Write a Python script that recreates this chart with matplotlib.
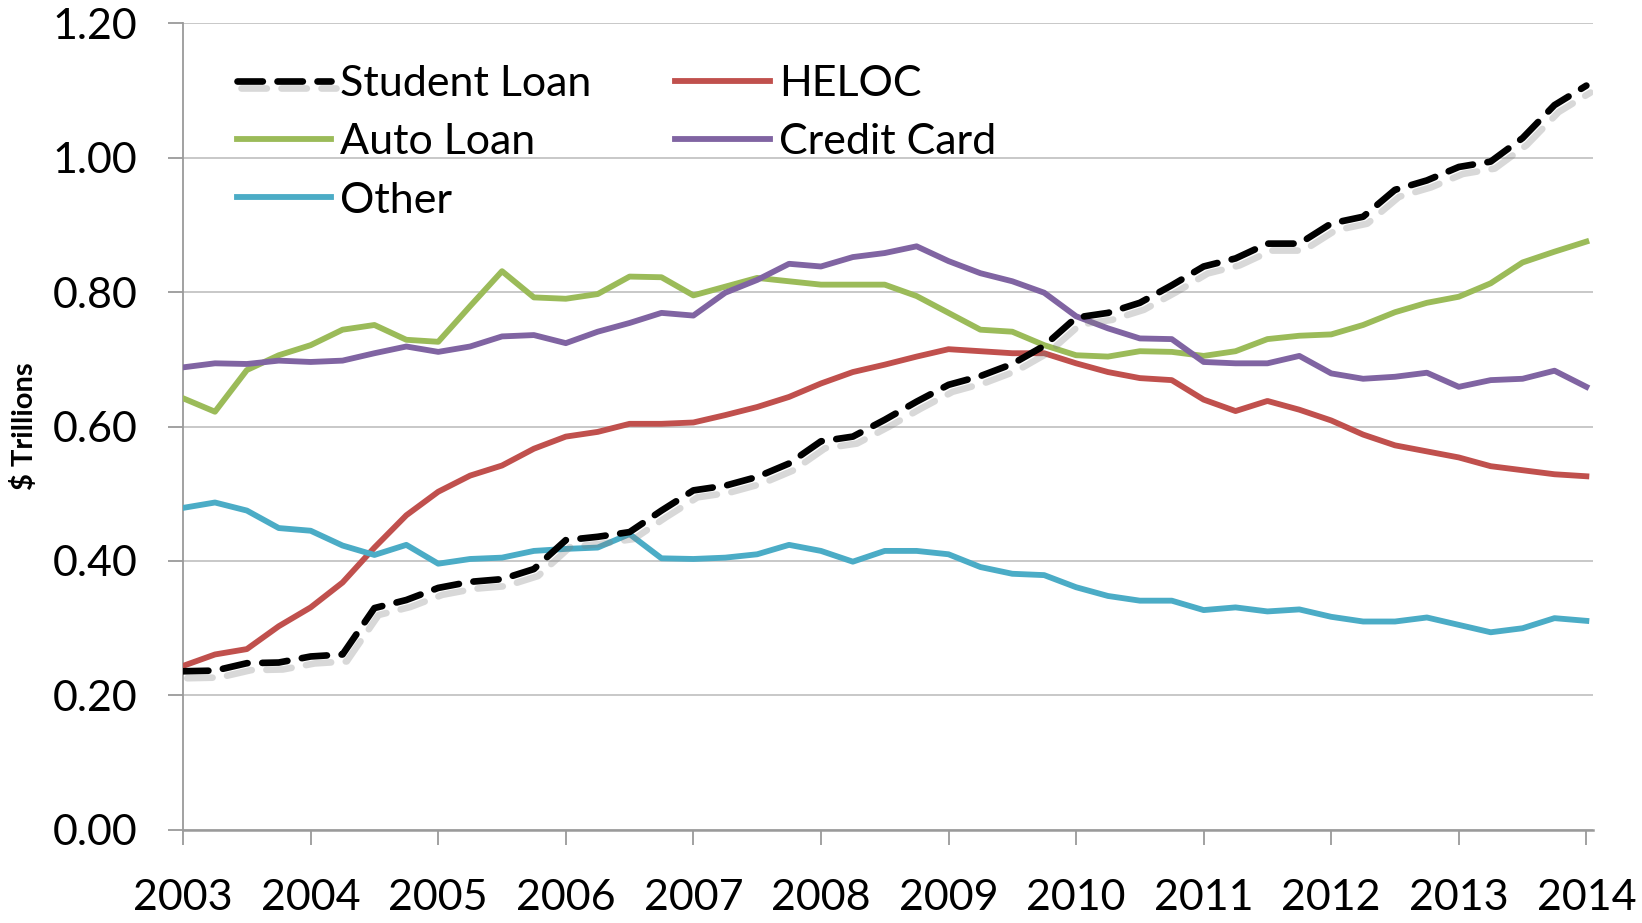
import numpy as np
import pandas as pd
import matplotlib
matplotlib.use("Agg")
import matplotlib.pyplot as plt
import matplotlib.patheffects as pe

plt.rcParams["font.family"] = ["Lato", "DejaVu Sans"]

# ── Data (quarterly, $ trillions) ────────────────────────────────────────────
quarters = pd.period_range("2003Q1", "2014Q1", freq="Q")

student_loan = [0.236, 0.237, 0.248, 0.249, 0.258, 0.261, 0.330, 0.342, 0.360, 0.369,
                0.373, 0.388, 0.431, 0.436, 0.443, 0.475, 0.505, 0.512, 0.525, 0.545,
                0.578, 0.585, 0.610, 0.637, 0.662, 0.675, 0.693, 0.720, 0.762, 0.769,
                0.784, 0.810, 0.838, 0.850, 0.872, 0.872, 0.902, 0.912, 0.952, 0.966,
                0.986, 0.994, 1.029, 1.078, 1.107]
heloc = [0.244, 0.261, 0.269, 0.303, 0.331, 0.368, 0.420, 0.468, 0.503, 0.527,
         0.542, 0.567, 0.585, 0.592, 0.604, 0.604, 0.606, 0.617, 0.629, 0.644,
         0.664, 0.681, 0.692, 0.704, 0.715, 0.712, 0.709, 0.709, 0.694, 0.681,
         0.672, 0.669, 0.640, 0.623, 0.638, 0.625, 0.609, 0.588, 0.572, 0.563,
         0.554, 0.541, 0.535, 0.529, 0.526]
auto_loan = [0.642, 0.622, 0.684, 0.706, 0.721, 0.744, 0.751, 0.729, 0.726, 0.779,
             0.831, 0.792, 0.790, 0.797, 0.823, 0.822, 0.795, 0.808, 0.821, 0.816,
             0.811, 0.811, 0.811, 0.794, 0.769, 0.744, 0.741, 0.721, 0.706, 0.704,
             0.712, 0.711, 0.705, 0.712, 0.730, 0.735, 0.737, 0.751, 0.770, 0.784,
             0.793, 0.813, 0.844, 0.860, 0.875]
credit_card = [0.688, 0.694, 0.693, 0.698, 0.696, 0.698, 0.709, 0.719, 0.711, 0.719,
               0.734, 0.736, 0.724, 0.741, 0.754, 0.769, 0.765, 0.799, 0.818, 0.842,
               0.838, 0.852, 0.858, 0.868, 0.846, 0.828, 0.816, 0.799, 0.764, 0.746,
               0.731, 0.730, 0.696, 0.694, 0.694, 0.705, 0.679, 0.671, 0.674, 0.680,
               0.659, 0.669, 0.671, 0.683, 0.659]
other = [0.479, 0.487, 0.475, 0.449, 0.445, 0.423, 0.409, 0.424, 0.396, 0.403,
         0.405, 0.415, 0.418, 0.420, 0.440, 0.404, 0.403, 0.405, 0.410, 0.424,
         0.415, 0.399, 0.415, 0.415, 0.410, 0.391, 0.381, 0.379, 0.361, 0.348,
         0.341, 0.341, 0.327, 0.331, 0.325, 0.328, 0.317, 0.310, 0.310, 0.316,
         0.305, 0.294, 0.300, 0.315, 0.311]

year_ticks = list(range(2003, 2015))
y_ticks = [0.0, 0.2, 0.4, 0.6, 0.8, 1.0, 1.2]

x = quarters.year + (quarters.quarter - 1) / 4.0

# ── Plot ──────────────────────────────────────────────────────────────────────
fig = plt.figure(figsize=(16.42, 9.23), dpi=100)
ax = fig.add_axes([0.1115, 0.1008, 0.8585, 0.8742])

ax.plot(x, student_loan, color="black", lw=4.8, dashes=(3.8, 2.2),
        dash_capstyle="round", label="Student Loan", zorder=5,
        path_effects=[pe.SimpleLineShadow(offset=(3, -5), shadow_color="gray", alpha=0.3),
                      pe.Normal()])
ax.plot(x, heloc, color="#C0504D", lw=4.2, label="HELOC", zorder=4)
ax.plot(x, auto_loan, color="#9BBB59", lw=4.2, label="Auto Loan", zorder=4)
ax.plot(x, credit_card, color="#8064A2", lw=4.2, label="Credit Card", zorder=4)
ax.plot(x, other, color="#4BACC6", lw=4.2, label="Other", zorder=4)

ax.set_xlim(2003, 2014.05)
ax.set_ylim(0, 1.2)
ax.set_xticks(year_ticks)
ax.set_xticklabels([str(y) for y in year_ticks])
ax.set_yticks(y_ticks)
ax.set_yticklabels([f"{v:.2f}" for v in y_ticks])

ax.grid(axis="y", color="#C4C4C4", lw=1.3)
ax.set_axisbelow(True)
for side in ["top", "right"]:
    ax.spines[side].set_visible(False)
ax.spines["left"].set_color("#9A9A9A")
ax.spines["bottom"].set_color("#9A9A9A")
ax.spines["left"].set_linewidth(1.3)
ax.spines["bottom"].set_linewidth(1.8)

ax.tick_params(axis="y", length=11, width=1.3, color="#9A9A9A", pad=22, labelsize=31)
ax.tick_params(axis="x", length=11, width=1.3, color="#9A9A9A", pad=24, labelsize=31)

ax.set_ylabel("$ Trillions", fontsize=21, fontweight="bold")
ax.yaxis.set_label_coords(-0.103, 0.5)

# legend filled column-wise: col 1 = Student Loan, Auto Loan, Other; col 2 = HELOC, Credit Card
handles, labels = ax.get_legend_handles_labels()
order = [0, 2, 4, 1, 3]
ax.legend([handles[i] for i in order], [labels[i] for i in order],
          ncol=2, loc="upper left", bbox_to_anchor=(0.038, 0.948),
          frameon=False, fontsize=31, handlelength=2.2, handletextpad=0.2,
          columnspacing=1.95, labelspacing=0.47, borderpad=0, borderaxespad=0)

fig.savefig("out.png", dpi=100)
